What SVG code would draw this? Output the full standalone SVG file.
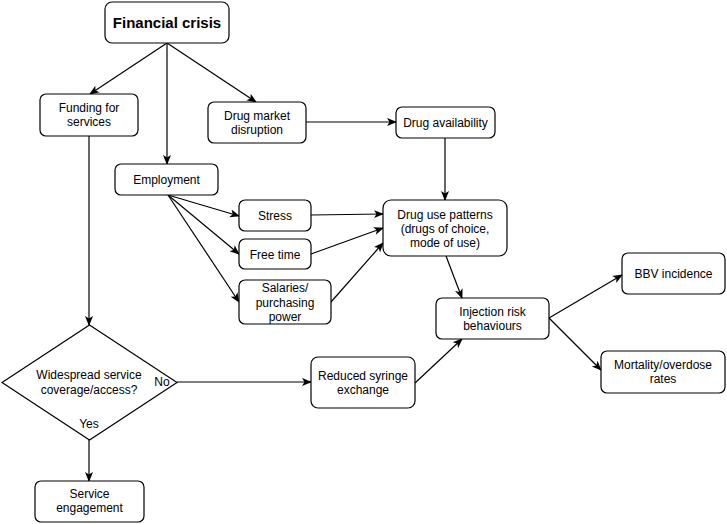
<svg xmlns="http://www.w3.org/2000/svg" width="727" height="524" viewBox="0 0 727 524">
<style>
.box{fill:#fff;stroke:#000;stroke-width:1.2}
.t{font-family:"Liberation Sans",Arial,sans-serif;font-size:12px;fill:#000;text-anchor:middle}
.b{font-weight:bold;font-size:15px}
.c{fill:none;stroke:#000;stroke-width:1.2;marker-end:url(#ah)}
</style>
<defs>
<marker id="ah" viewBox="0 0 10 10" refX="9" refY="5" markerWidth="10" markerHeight="10" markerUnits="userSpaceOnUse" orient="auto">
<path d="M0,1 L10,5 L0,9 L2.5,5 Z" fill="#000"/>
</marker>
</defs>
<rect width="727" height="524" fill="#fff"/>
<g id="connectors">
<path class="c" d="M167,43 L90,94"/>
<path class="c" d="M167,43 L167,164"/>
<path class="c" d="M167,43 L256,102"/>
<path class="c" d="M89,136 L89,325"/>
<path class="c" d="M177,382 L311,382"/>
<path class="c" d="M89,440 L89,481"/>
<path class="c" d="M306,122 L396,122"/>
<path class="c" d="M445,138 L445,200"/>
<path class="c" d="M168,195 L239,216"/>
<path class="c" d="M168,195 L239,254"/>
<path class="c" d="M168,195 L239,302"/>
<path class="c" d="M311,215 L383,214"/>
<path class="c" d="M311,254 L383,228"/>
<path class="c" d="M331,302 L383,243"/>
<path class="c" d="M446,256 L462,298"/>
<path class="c" d="M415,383 L462,339"/>
<path class="c" d="M549,318 L622,275"/>
<path class="c" d="M549,318 L601,370"/>
</g>
<g id="financial-crisis"><rect class="box" x="105" y="2" width="124" height="41" rx="7"/><text class="t b" x="167" y="27.5">Financial crisis</text></g>
<g id="funding"><rect class="box" x="40" y="94" width="98" height="42" rx="6"/><text class="t" x="89" y="112">Funding for</text><text class="t" x="89" y="126">services</text></g>
<g id="drug-market"><rect class="box" x="208" y="102" width="98" height="41" rx="6"/><text class="t" x="257" y="120">Drug market</text><text class="t" x="257" y="134">disruption</text></g>
<g id="drug-availability"><rect class="box" x="396" y="107" width="99" height="31" rx="6"/><text class="t" x="445.5" y="127">Drug availability</text></g>
<g id="employment"><rect class="box" x="115" y="164" width="103" height="31" rx="6"/><text class="t" x="166.5" y="184">Employment</text></g>
<g id="stress"><rect class="box" x="239" y="200" width="72" height="31" rx="6"/><text class="t" x="275" y="220">Stress</text></g>
<g id="free-time"><rect class="box" x="239" y="239" width="72" height="30" rx="6"/><text class="t" x="275" y="258.5">Free time</text></g>
<g id="salaries"><rect class="box" x="239" y="280" width="92" height="44" rx="6"/><text class="t" x="285" y="292">Salaries/</text><text class="t" x="285" y="306.5">purchasing</text><text class="t" x="285" y="321">power</text></g>
<g id="drug-use"><rect class="box" x="383" y="200" width="124" height="56" rx="8"/><text class="t" x="445" y="218.5">Drug use patterns</text><text class="t" x="445" y="232.5">(drugs of choice,</text><text class="t" x="445" y="246.5">mode of use)</text></g>
<g id="injection"><rect class="box" x="436" y="298" width="113" height="41" rx="6"/><text class="t" x="492.5" y="316">Injection risk</text><text class="t" x="492.5" y="330">behaviours</text></g>
<g id="bbv"><rect class="box" x="622" y="253" width="103" height="41" rx="6"/><text class="t" x="673.5" y="278">BBV incidence</text></g>
<g id="mortality"><rect class="box" x="601" y="351" width="124" height="42" rx="6"/><text class="t" x="663" y="369">Mortality/overdose</text><text class="t" x="663" y="383">rates</text></g>
<g id="decision"><path class="box" d="M89.5,325 L177,382.5 L89.5,440 L2,382.5 Z"/><text class="t" x="89" y="378.5">Widespread service</text><text class="t" x="89" y="393.5">coverage/access?</text></g>
<g id="labels"><text class="t" x="162" y="386">No</text><text class="t" x="89" y="428">Yes</text></g>
<g id="syringe"><rect class="box" x="311" y="357" width="104" height="51" rx="7"/><text class="t" x="363" y="380">Reduced syringe</text><text class="t" x="363" y="394">exchange</text></g>
<g id="service-engagement"><rect class="box" x="35" y="481" width="109" height="41" rx="6"/><text class="t" x="89.5" y="498">Service</text><text class="t" x="89.5" y="512">engagement</text></g>
</svg>
